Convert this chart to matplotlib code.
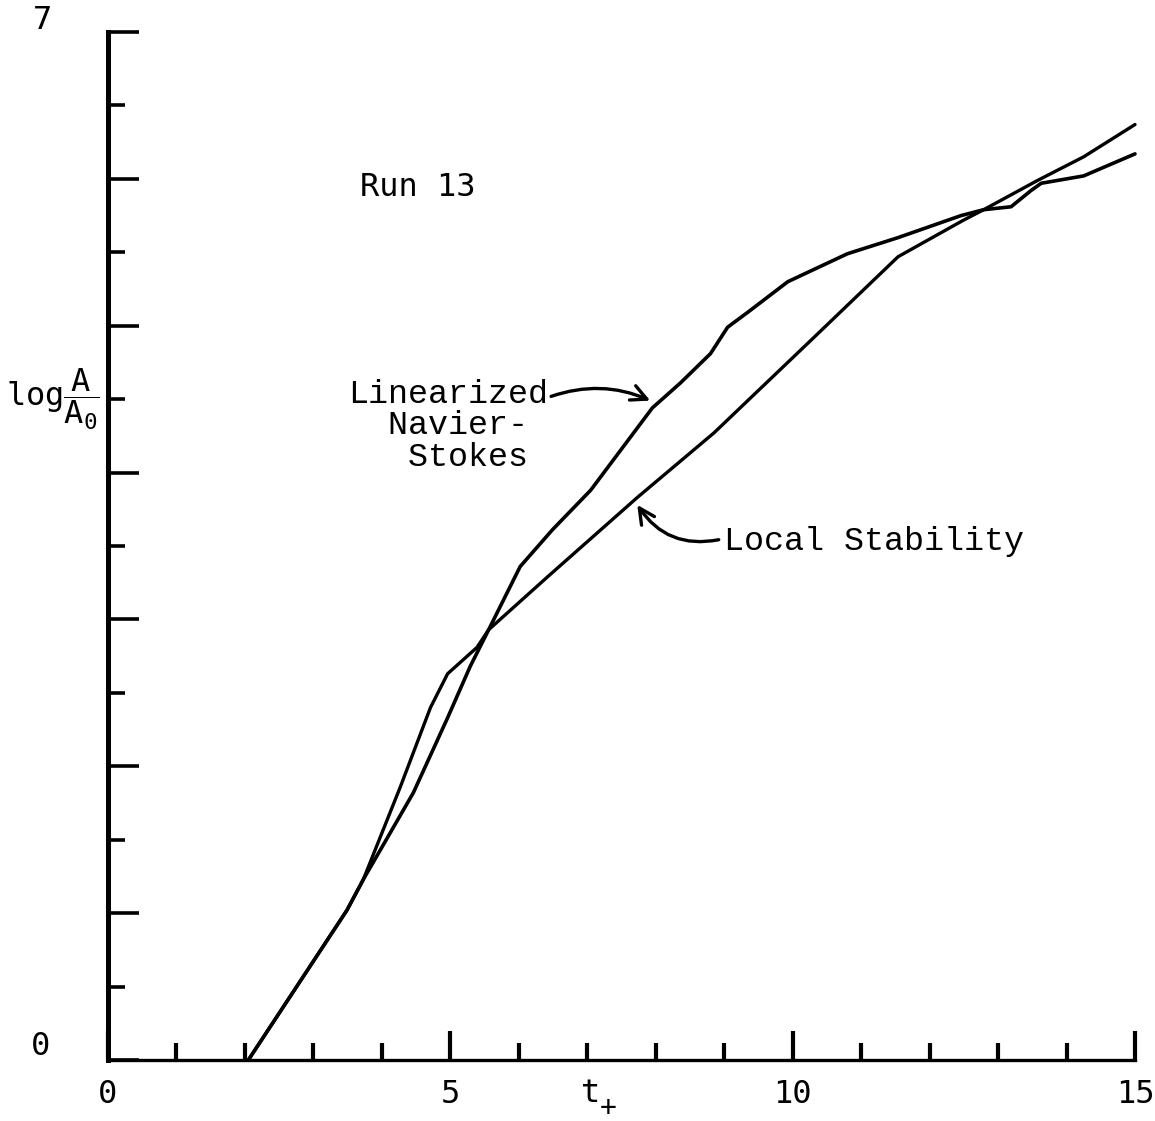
import matplotlib
matplotlib.use("Agg")
import matplotlib.pyplot as plt

# log(A/A0) against t_+ for Run 13; both curves share the initial linear rise
t_ns = [2.05, 3.49, 3.73, 4.46, 4.96, 5.29, 5.56, 6.02, 6.49, 7.05, 7.95, 8.36,
        8.80, 9.05, 9.34, 9.93, 10.80, 11.54, 12.46, 12.79, 13.19, 13.48, 13.63,
        14.25, 15.0]
y_ns = [0.0, 1.02, 1.23, 1.82, 2.33, 2.68, 2.93, 3.36, 3.61, 3.88, 4.44, 4.61,
        4.81, 4.99, 5.09, 5.30, 5.49, 5.60, 5.75, 5.79, 5.81, 5.92, 5.97,
        6.02, 6.17]

t_ls = [2.05, 3.49, 3.73, 4.27, 4.71, 4.96, 5.39, 5.56, 6.42, 7.73, 8.85, 10.31,
        11.54, 12.50, 12.79, 13.58, 14.25, 15.0]
y_ls = [0.0, 1.02, 1.23, 1.86, 2.40, 2.63, 2.81, 2.93, 3.29, 3.83, 4.27, 4.92,
        5.47, 5.72, 5.79, 5.99, 6.15, 6.37]

x_major = [0, 5, 10, 15]
x_labels = ["0", "5", "10", "15"]
x_minor = list(range(1, 15))
y_major = list(range(0, 8))
y_minor = [v + 0.5 for v in range(0, 7)]

plt.rcParams["mathtext.fontset"] = "custom"
plt.rcParams["mathtext.rm"] = "DejaVu Sans Mono"
plt.rcParams["mathtext.it"] = "DejaVu Sans Mono"
plt.rcParams["font.family"] = ["DejaVu Sans Mono"]

TYPE = "Liberation Mono"   # courier-like face for the curve labels

fig = plt.figure(figsize=(11.55, 11.21), dpi=100)
ax = fig.add_axes([108 / 1155, 61 / 1121, 1027 / 1155, 1028 / 1121])

ax.plot(t_ns, y_ns, color="k", lw=2.6, solid_joinstyle="round",
        solid_capstyle="round", clip_on=False)
ax.plot(t_ls, y_ls, color="k", lw=2.4, solid_joinstyle="round",
        solid_capstyle="round", clip_on=False)

ax.set_xlim(0, 15)
ax.set_ylim(0, 7)
for s in ("top", "right"):
    ax.spines[s].set_visible(False)
ax.spines["left"].set_linewidth(3.6)
ax.spines["bottom"].set_linewidth(2.4)

ax.set_xticks(x_major)
ax.set_xticklabels(x_labels, fontsize=23)
ax.set_xticks(x_minor, minor=True)
ax.set_yticks(y_major)
ax.set_yticklabels([])
ax.set_yticks(y_minor, minor=True)
ax.tick_params(axis="x", which="major", direction="in", length=21, width=3, pad=14)
ax.tick_params(axis="x", which="minor", direction="in", length=12, width=3)
ax.tick_params(axis="y", which="major", direction="in", length=22, width=2.6,
               left=True)
ax.tick_params(axis="y", which="minor", direction="in", length=12, width=2.6)

# end labels of the vertical scale and the axis names
ax.text(-0.96, 7.08, "7", fontsize=23, ha="center", va="center", clip_on=False)
ax.text(-0.99, 0.09, "0", fontsize=23, ha="center", va="center", clip_on=False)
ax.text(-0.12, 4.5, r"$\mathrm{log}\dfrac{A}{A_{0}}$", fontsize=23,
        ha="right", va="center", clip_on=False)
ax.text(7.05, -0.23, "t", fontsize=23, ha="center", va="center", clip_on=False)
ax.text(7.30, -0.33, "+", fontsize=20, ha="center", va="center", clip_on=False)

ax.text(4.52, 5.94, "Run 13", fontsize=23, ha="center", va="center")

ax.annotate("Linearized\n  Navier-\n   Stokes", xy=(7.92, 4.49),
            xytext=(3.51, 4.64), fontsize=24, family=TYPE, ha="left",
            va="top", linespacing=1.02,
            arrowprops=dict(arrowstyle="->", lw=2.4, color="k",
                            mutation_scale=28, shrinkA=0, shrinkB=0,
                            connectionstyle="arc3,rad=-0.2",
                            relpos=(1.0, 0.8)))
ax.annotate("Local Stability", xy=(7.73, 3.78), xytext=(9.0, 3.53),
            fontsize=24, family=TYPE, ha="left", va="center",
            arrowprops=dict(arrowstyle="->", lw=2.4, color="k",
                            mutation_scale=28, shrinkA=2, shrinkB=0,
                            connectionstyle="arc3,rad=-0.35",
                            relpos=(0.0, 0.6)))

fig.savefig("out.png", dpi=100)
